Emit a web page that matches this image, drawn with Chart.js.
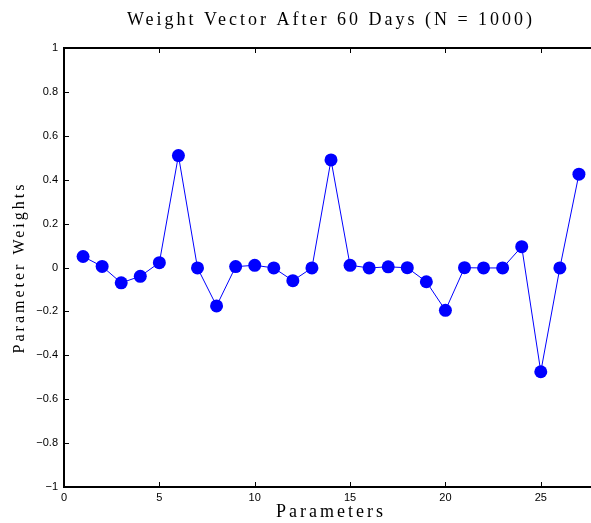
<!DOCTYPE html>
<html lang="en">
<head>
  <meta charset="UTF-8" />
  <title>Weight Vector After 60 Days</title>
  <script src="https://cdn.jsdelivr.net/npm/chart.js"></script>
  <style>
    body { margin: 0; padding: 0; background: #fff; }
    /* the original figure is cropped on the right, so the canvas is a bit wider than the view */
    #wrap { width: 591px; height: 523px; overflow: hidden; }
  </style>
</head>
<body>
  <div id="wrap"><canvas id="weightChart" width="598" height="523"></canvas></div>
  <script>
    // Data
    const params = [1, 2, 3, 4, 5, 6, 7, 8, 9, 10, 11, 12, 13, 14, 15, 16, 17, 18, 19, 20, 21, 22, 23, 24, 25, 26, 27];
    const weights = [0.05, 0.005, -0.07, -0.04, 0.022, 0.51, -0.002, -0.175, 0.004, 0.01, -0.002, -0.06, -0.002,
                     0.49, 0.01, -0.002, 0.003, -0.001, -0.065, -0.195, -0.001, -0.002, -0.002, 0.095, -0.475, -0.002, 0.425];
    const xTicks = [0, 5, 10, 15, 20, 25];
    const yTicks = [-1, -0.8, -0.6, -0.4, -0.2, 0, 0.2, 0.4, 0.6, 0.8, 1];

    const canvas = document.getElementById('weightChart');
    const ctx = canvas.getContext('2d');

    // serif labels get the wide, spaced look of the original
    const origFill = ctx.fillText.bind(ctx);
    const origMeasure = ctx.measureText.bind(ctx);
    function spacing(c) { c.letterSpacing = /Serif/.test(c.font) ? '3px' : '0px'; }
    ctx.fillText = function (t, x, y, m) { spacing(ctx); return m === undefined ? origFill(t, x, y) : origFill(t, x, y, m); };
    ctx.measureText = function (t) { spacing(ctx); return origMeasure(t); };

    const fmt = v => String(Math.round(v * 10) / 10).replace('-', '\u2212');

    // box around plot with inward ticks, matlab style
    const framePlugin = {
      id: 'frame',
      afterDatasetsDraw(chart) {
        const { ctx, chartArea: a, scales } = chart;
        ctx.save();
        ctx.strokeStyle = '#000';
        ctx.lineWidth = 1;
        const len = 5;
        ctx.beginPath();
        xTicks.forEach(v => {
          const px = Math.round(scales.x.getPixelForValue(v)) + 0.5;
          ctx.moveTo(px, a.bottom); ctx.lineTo(px, a.bottom - len);
          ctx.moveTo(px, a.top); ctx.lineTo(px, a.top + len);
        });
        yTicks.forEach(v => {
          const py = Math.round(scales.y.getPixelForValue(v)) + 0.5;
          ctx.moveTo(a.left, py); ctx.lineTo(a.left + len, py);
          ctx.moveTo(a.right, py); ctx.lineTo(a.right - len, py);
        });
        ctx.stroke();
        ctx.lineWidth = 2;
        ctx.strokeRect(a.left, a.top, a.right - a.left, a.bottom - a.top);
        ctx.restore();
      }
    };

    new Chart(ctx, {
      type: 'scatter',
      data: {
        datasets: [{
          label: 'Weights',
          data: params.map((p, i) => ({ x: p, y: weights[i] })),
          showLine: true,
          borderColor: '#0000ff',
          borderWidth: 1,
          backgroundColor: '#0000ff',
          pointRadius: 6.5,
          pointBorderWidth: 0,
          pointBackgroundColor: '#0000ff'
        }]
      },
      options: {
        responsive: false,
        devicePixelRatio: 1,
        animation: false,
        layout: { autoPadding: false, padding: 0 },
        plugins: {
          legend: { display: false },
          tooltip: { enabled: false },
          title: {
            display: true,
            fullSize: false,
            text: 'Weight Vector After 60 Days (N = 1000)',
            color: '#000',
            font: { family: 'Liberation Serif', size: 18, weight: 'normal', lineHeight: 1.2 },
            padding: { top: 9, bottom: 17.4 }
          }
        },
        scales: {
          x: {
            type: 'linear',
            min: 0,
            max: 28,
            afterFit(scale) { scale.height = 36; scale.paddingLeft = 0; scale.paddingRight = 0; },
            afterBuildTicks(scale) { scale.ticks = xTicks.map(v => ({ value: v })); },
            grid: { display: false, drawTicks: false },
            border: { display: false },
            ticks: { color: '#000', padding: 4, maxRotation: 0, font: { family: 'Liberation Sans', size: 11 } },
            title: {
              display: true,
              text: 'Parameters',
              color: '#000',
              font: { family: 'Liberation Serif', size: 18, lineHeight: 1.2 },
              padding: { top: 0, bottom: 0 }
            }
          },
          y: {
            min: -1,
            max: 1,
            afterFit(scale) { scale.width = 64; },
            afterBuildTicks(scale) { scale.ticks = yTicks.map(v => ({ value: v })); },
            grid: { display: false, drawTicks: false },
            border: { display: false },
            ticks: { color: '#000', padding: 6, callback: v => fmt(v), font: { family: 'Liberation Sans', size: 11 } },
            title: {
              display: true,
              text: 'Parameter Weights',
              color: '#000',
              font: { family: 'Liberation Serif', size: 16, lineHeight: 1.2 },
              padding: { top: 10, bottom: 0 }
            }
          }
        }
      },
      plugins: [framePlugin]
    });
  </script>
</body>
</html>
